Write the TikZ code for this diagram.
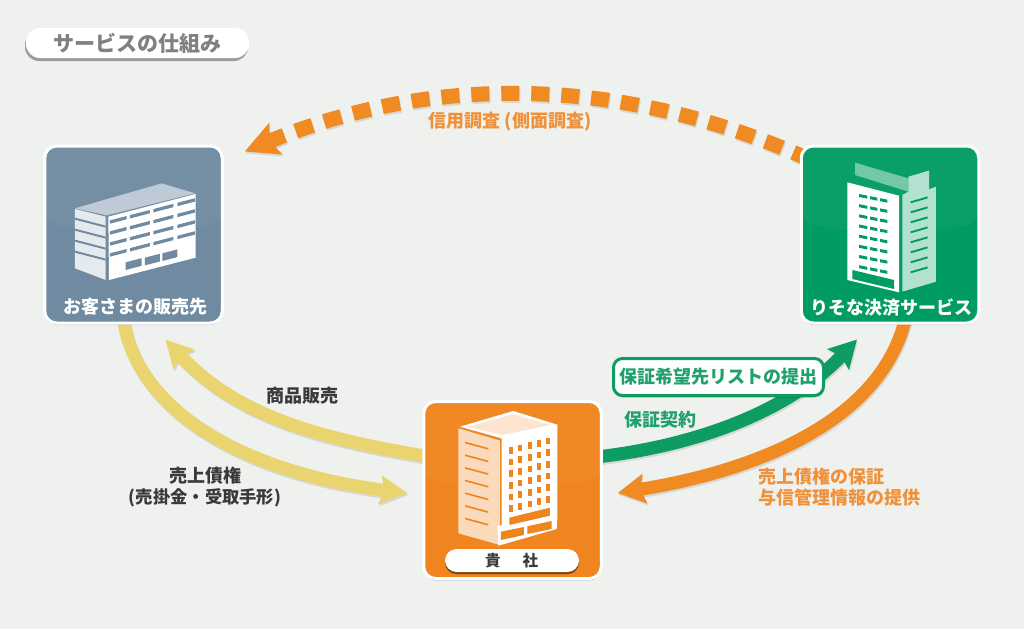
\documentclass[tikz,border=0pt]{standalone}
\usepackage{fontspec}
\setmainfont{Noto Sans CJK JP}
\usetikzlibrary{arrows.meta,backgrounds,shadows}
\definecolor{pagebg}{HTML}{EFF1EF}
\definecolor{clientc}{HTML}{6F8AA1}
\definecolor{resonac}{HTML}{009C62}
\definecolor{kishac}{HTML}{F0841E}
\definecolor{yellowc}{HTML}{E9D46F}
\definecolor{greenarrow}{HTML}{0E9C63}
\definecolor{orangearrow}{HTML}{F08A22}
\definecolor{orangetext}{HTML}{F0913A}
\definecolor{greentext}{HTML}{20A06C}
\definecolor{darktext}{HTML}{3A3A3A}
\newcommand{\skewrect}[6]{\fill[#1] ({#2},{#4}) -- ({#3},{#4+(#6)*(#3-#2)}) -- ({#3},{#4+#5+(#6)*(#3-#2)}) -- ({#2},{#4+#5}) -- cycle;}
\newcommand{\flow}[2]{%
  \draw[#1,draw=black,opacity=.1,transform canvas={xshift=1pt,yshift=-2pt}] #2;
  \draw[#1] #2;}
\tikzset{
  x=1pt,y=-1pt,
  tile/.style={draw=white,line width=3pt,rounded corners=12pt,minimum width=177.5pt,minimum height=177pt,inner sep=0pt,
    drop shadow={shadow xshift=0pt,shadow yshift=-2pt,fill=black,opacity=.2},
    path picture={\fill[white,opacity=.04] (path picture bounding box.north west) -- (path picture bounding box.north east) -- ([yshift=12pt]path picture bounding box.east) .. controls ([xshift=-60pt]path picture bounding box.east) and ([xshift=60pt]path picture bounding box.west) .. ([yshift=12pt]path picture bounding box.west) -- cycle;}},
  tiletext/.style={text=white,font=\bfseries\fontsize{18}{21}\selectfont,inner sep=0pt},
  lab/.style={font=\bfseries\fontsize{18}{20.5}\selectfont,inner sep=0pt,align=center},
  pillbox/.style={fill=white,rounded corners=11.5pt,inner sep=0pt},
  flowline/.style={line width=13pt},
  yellowflow/.style={flowline,draw=yellowc,-{Stealth[length=27pt,width=28pt,inset=4pt]}},
  greenflow/.style={flowline,draw=greenarrow,-{Stealth[length=27pt,width=29pt,inset=4pt]}},
  orangeflow/.style={flowline,draw=orangearrow,-{Stealth[length=27pt,width=29pt,inset=4pt]}},
  dashflow/.style={line width=15pt,draw=orangearrow,dash pattern=on 18pt off 12pt,-{Stealth[length=33pt,width=33pt,inset=6pt]}},
}
\begin{document}
\begin{tikzpicture}
\useasboundingbox (0,0) rectangle (1024,629);
% title
\node[pillbox,minimum width=223pt,minimum height=30pt,rounded corners=14pt,
  drop shadow={shadow xshift=-1pt,shadow yshift=-3pt,fill=black,opacity=.35}] (title) at (137.5,43) {};
\node[inner sep=0pt,text=black!50,font=\bfseries\fontsize{21}{24}\selectfont] (titletext) at (137.5,43) {サービスの仕組み};
% tiles
\node[tile,fill=clientc] (client) at (133.5,234.5) {};
\node[tile,fill=resonac] (resona) at (890,234.5) {};
\node[tile,fill=kishac] (kisha) at (512.5,490) {};
% client building
\begin{scope}[shift={(20,130)},x=.3333pt,y=-.3333pt]
  \fill[white!55!clientc] (165,235) -- (425,160) -- (525,190) -- (260,256) -- cycle;
  \fill[white!82!clientc] (165,237) -- (257,260) -- (257,450) -- (165,415) -- cycle;
  \foreach \q in {0,...,3}{\skewrect{clientc}{165}{257}{263+33*\q}{6}{.26}}
  \fill[white] (265,260) -- (527,192) -- (527,383) -- (267,450) -- cycle;
  \foreach \q in {0,...,3}{
    \foreach \a/\b in {270/320,330/390,400/460,472/525}{
      \pgfmathsetmacro{\yy}{271+33*\q-.26*(\a-270)}
      \skewrect{clientc}{\a}{\b}{\yy}{10}{-.26}
    }}
  \skewrect{clientc}{317}{365}{397}{23}{-.26}
  \skewrect{clientc}{375}{420}{383}{23}{-.26}
  \skewrect{clientc}{427}{472}{370}{23}{-.26}
\end{scope}
% resona building
\begin{scope}[shift={(780,130)},x=.3333pt,y=-.3333pt]
  \fill[white!45!resonac] (225,98) -- (385,145) -- (385,185) -- (225,135) -- cycle;
  \fill[white!70!resonac] (367,195) -- (385,185) -- (385,140) -- (447,122) -- (447,178) -- (468,170) -- (468,455) -- (367,485) -- cycle;
  \foreach \q in {0,...,7}{\skewrect{resonac}{392}{443}{214+30*\q}{6}{-.29}}
  \fill[white] (202,157) -- (357,197) -- (357,487) -- (202,450) -- cycle;
  \foreach \q in {0,...,7}{
    \foreach \a/\b in {237/262,270/292,300/322}{
      \pgfmathsetmacro{\yy}{192+30.5*\q+.2*(\a-237)}
      \skewrect{resonac}{\a}{\b}{\yy}{9}{.2}
    }}
  \fill[resonac] (217,420) -- (342,450) -- (342,477) -- (217,447) -- cycle;
\end{scope}
% kisha building
\begin{scope}[shift={(400,385)},x=.3333pt,y=-.3333pt]
  \fill[white] (180,125) -- (340,78) -- (475,120) -- (305,160) -- cycle;
  \fill[kishac!22!white] (205,125) -- (340,88) -- (450,120) -- (305,150) -- cycle;
  \fill[kishac!30!white] (175,130) -- (300,167) -- (300,480) -- (175,445) -- cycle;
  \foreach \q in {0,...,6}{\skewrect{kishac}{195}{265}{170+38*\q}{5}{.27}}
  \fill[white] (305,157) -- (472,120) -- (472,400) -- (470,432) -- (295,482) -- (292,425) -- (305,420) -- cycle;
  \foreach \q in {0,...,5}{
    \foreach \a in {327,355,383,411,439}{
      \pgfmathsetmacro{\yy}{186+35*\q-.25*(\a-327)}
      \fill[kishac] (\a,\yy) rectangle ++(12,20);
    }}
  \fill[kishac] (328,398) -- (450,368) -- (450,392) -- (328,420) -- cycle;
  \fill[kishac] (303,440) -- (372,426) -- (372,450) -- (303,465) -- cycle;
  \fill[kishac] (382,424) -- (455,408) -- (455,432) -- (382,447) -- cycle;
\end{scope}
% tile labels
\node[tiletext] (clientlabel) at (135,307) {お客さまの販売先};
\node[tiletext] (resonalabel) at (891.5,308) {りそな決済サービス};
\node[pillbox,minimum width=134pt,minimum height=23pt,
  drop shadow={shadow xshift=0pt,shadow yshift=-2pt,fill=black,opacity=.5}] (kishapill) at (512,560.5) {};
\node[inner sep=0pt,text=darktext,font=\bfseries\fontsize{15.5}{18}\selectfont] (kishalabel) at (511.7,561) {貴\hspace{22pt}社};
% labels
\node[lab,text=orangetext] (lcredit) at (510,122) {信用調査 (側面調査)};
\node[lab,text=darktext] (lsales) at (302,396) {商品販売};
\node[lab,text=darktext] (lrecv) at (205,487) {売上債権\\{\fontsize{17.3}{20.5}\selectfont (売掛金・受取手形)}};
\node[lab,text=greentext] (lcontract) at (660,420) {保証契約};
\node[lab,text=orangetext,align=left,anchor=west] (lguar) at (758.5,487) {売上債権の保証\\与信管理情報の提供};
% flows on the background layer
\begin{scope}[on background layer]
  \fill[pagebg] (0,0) rectangle (1024,629);
  \flow{dashflow}{([xshift=10pt,yshift=-15pt]resona.north west) .. controls (621,75.5) and (433,73.5) .. ([xshift=21pt,yshift=-7pt]client.north east)}
  \flow{yellowflow}{([xshift=8pt,yshift=33pt]kisha.west) .. controls (330,440) and (240,420) .. ([xshift=32pt,yshift=-15pt]client.south)}
  \flow{yellowflow}{([xshift=-10pt,yshift=4pt]client.south) .. controls (140,420) and (260,475) .. ([xshift=-15pt,yshift=-3pt]kisha.west)}
  \flow{greenflow}{([xshift=-6pt,yshift=33pt]kisha.east) .. controls (700,445) and (790,410) .. ([xshift=-33pt,yshift=-15pt]resona.south)}
  \flow{orangeflow}{([xshift=15pt,yshift=4pt]resona.south) .. controls (880,420) and (760,470) .. ([xshift=15pt,yshift=-3pt]kisha.east)}
\end{scope}
% green callout above its arrow
\node[draw=greenarrow,line width=3pt,fill=white,rounded corners=9pt,inner sep=0pt,minimum width=210pt,minimum height=37pt,
  drop shadow={shadow xshift=0pt,shadow yshift=-2pt,fill=black,opacity=.2}] (callout) at (718.5,377) {};
\node[lab,text=greentext] (calloutlabel) at (718.5,377) {保証希望先リストの提出};
\end{tikzpicture}
\end{document}
